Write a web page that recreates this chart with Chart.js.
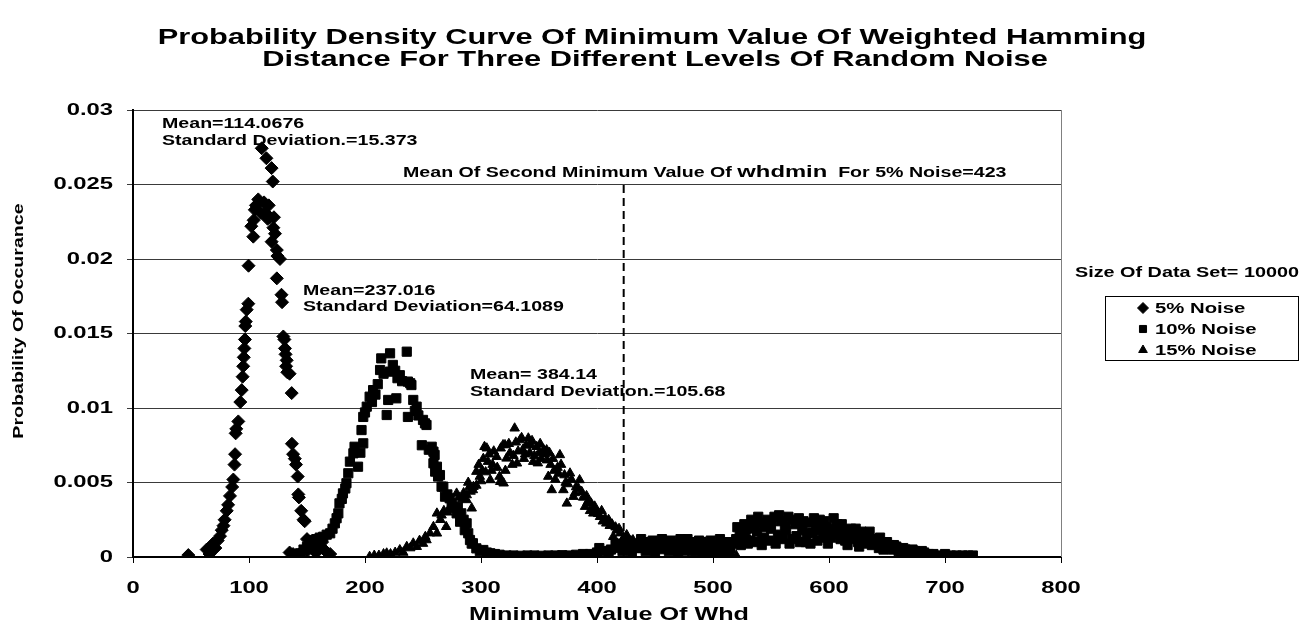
<!DOCTYPE html>
<html>
<head>
<meta charset="utf-8">
<title>Probability Density Curve Of Minimum Value Of Weighted Hamming Distance</title>
<script src="https://cdn.jsdelivr.net/npm/chart.js@4.4.1/dist/chart.umd.min.js"></script>
<style>
  html, body { margin: 0; padding: 0; background: #fff; overflow: hidden; }
  canvas { display: block; }
</style>
</head>
<body>
<canvas id="chart" width="1314" height="628"></canvas>
<script>
// ---- data: minimum weighted Hamming distance vs. probability of occurrence ----
const noise5X = [47.7, 63.5, 66, 69, 71, 73, 75, 76.5, 78, 79, 80.8, 82, 83.6, 85.5, 86.5, 87.5, 88, 88.5, 89, 90.8,
  92.5, 93.7, 94.5, 95, 95.5, 96, 96.5, 96.8, 97.2, 98, 99.4, 99.6, 102, 103.7, 104, 105, 106, 108, 110, 111,
  113, 114, 115, 116, 117, 118, 119.5, 119.5, 120.5, 121, 121.5, 122.4, 124, 124.5, 126.7, 124, 128, 128.5, 129.6, 130.5,
  131, 131.5, 132.5, 132, 133, 135, 136.8, 137, 138, 139.5, 140.5, 142, 142.5, 143, 145, 147, 148, 150, 152, 155,
  158, 160, 163, 166, 170, 138, 141, 135, 145, 150];
const noise5Y = [0.00013, 0.0005, 0.0002, 0.0009, 0.0006, 0.0011, 0.0014, 0.0018, 0.0021, 0.0025, 0.0031, 0.0035, 0.0041, 0.0047, 0.0052, 0.0062, 0.0069, 0.0083, 0.0086, 0.0091,
  0.0104, 0.0112, 0.0121, 0.0128, 0.0134, 0.0140, 0.0146, 0.0155, 0.0158, 0.0166, 0.0170, 0.01955, 0.0222, 0.0215, 0.0226, 0.0233, 0.0236, 0.0240, 0.0231, 0.02743,
  0.0238, 0.0231, 0.02676, 0.0227, 0.0236, 0.0228, 0.0261, 0.02116, 0.0252, 0.0221, 0.0228, 0.0217, 0.0206, 0.0202, 0.0200, 0.0187, 0.0176, 0.0171, 0.0148, 0.0146,
  0.0140, 0.0136, 0.0132, 0.0128, 0.0124, 0.0123, 0.0110, 0.0076, 0.0069, 0.0066, 0.0062, 0.0054, 0.0042, 0.0040, 0.0031, 0.0025, 0.0024, 0.0012, 0.0008, 0.0005,
  0.0003, 0.0007, 0.0010, 0.0004, 0.0002, 0.0002, 0.0001, 0.0003, 0.0003, 0.0004];

const noise10X = [138, 141, 144, 147, 150, 153, 155.5, 158, 161, 164, 167, 170, 172, 174, 175.5, 177, 178, 180, 181, 183,
  184, 185.6, 187, 190, 191, 194, 196, 197, 198.5, 198.5, 200, 201.5, 204, 206, 207, 209, 211, 213, 214, 216,
  218.7, 220, 221.6, 221.6, 224, 226, 227, 228, 230, 232, 236, 237, 237, 239, 240, 241.6, 243, 244.5, 246, 249,
  250, 251.7, 253, 255, 257.5, 259, 259, 260, 260.5, 262, 263, 264.6, 266, 267.5, 269, 271, 273, 274.7, 277, 279,
  280, 282, 283, 285, 286, 287.6, 289, 290.5, 292, 293, 296, 299, 302, 305, 308, 312, 316, 322, 328, 334,
  340, 346, 352, 358, 364, 370, 376, 382, 388, 394, 400, 406, 412, 418, 424, 428, 432, 436, 440, 444,
  448, 452, 456, 460, 464, 468, 472, 476, 480, 484, 488, 492, 496, 500, 504, 508, 512, 515, 520, 523,
  526, 529, 532, 535, 538, 541, 544, 547, 550, 553, 556, 559, 562, 565, 568, 571, 574, 577, 580, 583,
  586, 589, 592, 595, 598, 601, 604, 607, 610, 613, 616, 619, 622, 625, 628, 631, 634, 637, 640, 643,
  646, 649, 652, 655, 658, 662, 666, 670, 674, 678, 682, 686, 690, 695, 700, 705, 710, 715, 720, 724,
  402, 410, 416, 422, 426, 430, 434, 438, 442, 446, 450, 454, 458, 462, 466, 470, 474, 478, 482, 486,
  490, 494, 498, 502, 506, 510, 514, 518, 521, 524, 527, 530, 533, 536, 539, 542, 545, 548, 551, 554,
  557, 560, 563, 566, 569, 572, 575, 578, 581, 584, 587, 590, 593, 596, 599, 602, 605, 608, 611, 614,
  617, 620, 623, 626, 629, 632, 635, 638, 641, 644, 647, 650, 653, 656, 660, 664, 668, 672, 676, 680];
const noise10Y = [0.00013, 0.0002, 0.00025, 0.0005, 0.00069, 0.0009, 0.00114, 0.0012, 0.0013, 0.00136, 0.0015, 0.00159, 0.0019, 0.00226, 0.0026, 0.00293, 0.0036, 0.0039, 0.00427, 0.0046,
  0.00495, 0.00562, 0.0064, 0.00696, 0.0074, 0.00606, 0.0070, 0.00852, 0.00763, 0.0094, 0.0097, 0.01009, 0.01076, 0.0104, 0.0112, 0.0109, 0.0116, 0.01255, 0.01333, 0.0123,
  0.00953, 0.01054, 0.01367, 0.01244, 0.01289, 0.0125, 0.01065, 0.0120, 0.0122, 0.0118, 0.01378, 0.01177, 0.0094, 0.01166, 0.01154, 0.01054, 0.0098, 0.01009, 0.0095, 0.0075,
  0.0092, 0.00897, 0.00886, 0.0072, 0.0074, 0.00707, 0.00629, 0.00685, 0.00573, 0.00606, 0.0054, 0.0055, 0.00472, 0.00472, 0.00405, 0.0042, 0.00394, 0.0036, 0.0033, 0.00293,
  0.00338, 0.00237, 0.00293, 0.0025, 0.0018, 0.00226, 0.00159, 0.00114, 0.0009, 0.00092, 0.00058, 0.0004, 0.00047, 0.0003, 0.00025, 0.0002, 0.00015, 0.0001, 0.0001, 0.00008,
  0.0001, 0.0001, 0.00008, 0.0001, 0.0001, 0.00012, 0.0001, 0.00015, 0.0002, 0.0002, 0.0003, 0.0004, 0.0005, 0.0006, 0.0008, 0.0005, 0.0009, 0.0006, 0.0010, 0.0007,
  0.0011, 0.0008, 0.0012, 0.0007, 0.0011, 0.0009, 0.0012, 0.0006, 0.0010, 0.0008, 0.0011, 0.0006, 0.0009, 0.0005, 0.0008, 0.0004, 0.0010, 0.0006, 0.0012, 0.0016,
  0.0014, 0.0019, 0.0011, 0.0021, 0.0017, 0.0023, 0.0013, 0.0025, 0.0019, 0.0027, 0.0015, 0.0024, 0.0021, 0.0027, 0.0012, 0.0022, 0.0026, 0.0018, 0.0010, 0.0023,
  0.0016, 0.0021, 0.0025, 0.0013, 0.0020, 0.0017, 0.0026, 0.0022, 0.0012, 0.0018, 0.0008, 0.0019, 0.0015, 0.0010, 0.0017, 0.0012, 0.0014, 0.0008, 0.0012, 0.0006,
  0.0010, 0.0007, 0.0008, 0.0005, 0.0007, 0.0004, 0.0005, 0.0003, 0.0004, 0.0002, 0.0003, 0.0002, 0.0002, 0.0001, 0.0002, 0.0001, 0.0001, 0.0001, 0.0001, 0.0001,
  0.0006, 0.0003, 0.0009, 0.0004, 0.0011, 0.0003, 0.0006, 0.0012, 0.0004, 0.0009, 0.0003, 0.0006, 0.0010, 0.0004, 0.0006, 0.0003, 0.0009, 0.0012, 0.0004, 0.0006,
  0.0010, 0.0003, 0.0011, 0.0003, 0.0012, 0.0007, 0.0003, 0.0009, 0.0020, 0.0008, 0.0022, 0.0009, 0.0025, 0.0010, 0.0027, 0.0008, 0.0020, 0.0011, 0.0024, 0.0009,
  0.0028, 0.0012, 0.0018, 0.0009, 0.0025, 0.0014, 0.0010, 0.0024, 0.0016, 0.0009, 0.0026, 0.0011, 0.0018, 0.0024, 0.0009, 0.0013, 0.0019, 0.0015, 0.0022, 0.0011,
  0.0016, 0.0012, 0.0019, 0.0007, 0.0014, 0.0009, 0.0017, 0.0011, 0.0009, 0.0013, 0.0005, 0.0010, 0.0006, 0.0008, 0.0004, 0.0006, 0.0003, 0.0005, 0.0002, 0.0004];

const noise15X = [204, 208, 212, 216, 218.7, 222, 226, 230, 233, 236, 239, 241.6, 244.6, 247, 250, 252, 253, 256, 259, 262,
  262, 265, 268, 270, 273, 276, 279, 282, 284, 287.6, 287.7, 290, 292, 293, 293.5, 296, 299, 301, 303, 305,
  306, 308, 310, 313.5, 316, 316.5, 319, 319.5, 320.7, 322, 325, 328, 329, 331, 333.6, 336, 338, 340.8, 343, 345,
  348, 350, 352, 355, 356.6, 358, 360, 361, 363, 366, 368, 371, 373, 374, 376.7, 379.6, 382, 385, 386.8, 389.7,
  392, 394, 396.8, 399, 402.6, 405, 408, 411, 414, 417, 420, 422, 425.6, 428, 431, 434, 437, 440, 444, 448,
  452, 456, 460, 465, 470, 475, 480, 485, 490, 495, 500, 505, 510, 515, 520, 525, 530, 535, 540,
  296, 298, 300, 302, 304, 307, 309, 311, 314, 317, 321, 324, 327, 330, 332, 335, 337, 339, 342, 344,
  346, 349, 351, 354, 357, 359, 362, 364, 367, 369, 372, 375, 378, 381, 384, 388, 391, 395, 398, 401,
  404, 407, 410, 413, 416, 419, 423, 427, 266, 271, 275, 278, 281, 285, 289, 291];
const noise15Y = [0.00002, 0.0001, 0.0001, 0.0002, 0.00025, 0.0002, 0.0003, 0.00047, 0.0003, 0.00069, 0.0006, 0.00092, 0.00069, 0.0011, 0.0009, 0.00136, 0.00114, 0.0016, 0.00203, 0.00159,
  0.00293, 0.0025, 0.0031, 0.00203, 0.0033, 0.0036, 0.00427, 0.00293, 0.0039, 0.00383, 0.00416, 0.0047, 0.00327, 0.0045, 0.00472, 0.00573, 0.0054, 0.0058, 0.0074, 0.0073,
  0.0064, 0.00517, 0.0062, 0.00673, 0.0054, 0.00505, 0.00752, 0.00495, 0.00752, 0.00662, 0.0070, 0.0068, 0.00864, 0.00629, 0.00785, 0.0072, 0.0069, 0.00797, 0.0075, 0.0064,
  0.0074, 0.0070, 0.0066, 0.0069, 0.00718, 0.0054, 0.0062, 0.0045, 0.0058, 0.0060, 0.00685, 0.0045, 0.0050, 0.0036, 0.00562, 0.00405, 0.0047, 0.00517, 0.00438, 0.00338,
  0.0037, 0.0031, 0.00293, 0.0031, 0.0027, 0.0024, 0.00226, 0.0021, 0.00136, 0.0018, 0.0016, 0.0011, 0.00148, 0.0009, 0.00114, 0.0008, 0.0010, 0.0006, 0.0009, 0.0005,
  0.0007, 0.0004, 0.0006, 0.0004, 0.0005, 0.0003, 0.0004, 0.0003, 0.0002, 0.0003, 0.0002, 0.0002, 0.0001, 0.0002, 0.0001, 0.0009, 0.0014, 0.0018, 0.0012,
  0.0048, 0.0062, 0.0051, 0.0066, 0.0057, 0.0069, 0.0058, 0.0071, 0.0060, 0.0073, 0.0058, 0.0076, 0.0062, 0.0077, 0.0071, 0.0080, 0.0066, 0.0075, 0.0070, 0.0078,
  0.0068, 0.0063, 0.0076, 0.0072, 0.0065, 0.0070, 0.0066, 0.0052, 0.0056, 0.0062, 0.0055, 0.0049, 0.0052, 0.0043, 0.0046, 0.0040, 0.0041, 0.0036, 0.0034, 0.0029,
  0.0031, 0.0026, 0.0025, 0.0022, 0.0020, 0.0019, 0.0013, 0.0012, 0.0028, 0.0030, 0.0038, 0.0034, 0.0040, 0.0043, 0.0050, 0.0044];

// mean of the second minimum of whdmin for 5% noise
const secondMinMean = 423;
const secondMinTop = 0.025;

const seriesNames = ['5% Noise', '10% Noise', '15% Noise'];
const seriesStyles = ['rectRot', 'rect', 'triangle'];

const FONT = "'Liberation Sans', Arial, sans-serif";
const WIDE = 1.4; // horizontal stretch used for all chart text

function pts(xs, ys) { return xs.map((x, i) => ({ x: x, y: ys[i] })); }

function wideText(ctx, s, x, y, size, opts) {
  opts = opts || {};
  ctx.save();
  ctx.font = (opts.weight || 'bold') + ' ' + size + 'px ' + FONT;
  ctx.fillStyle = '#000';
  ctx.textAlign = opts.align || 'left';
  ctx.textBaseline = opts.baseline || 'alphabetic';
  ctx.translate(x, y);
  if (opts.rotate) ctx.rotate(opts.rotate);
  ctx.scale(opts.sx || WIDE, 1);
  ctx.fillText(s, 0, 0);
  const w = ctx.measureText(s).width * (opts.sx || WIDE);
  ctx.restore();
  return w;
}

const frame = {
  id: 'frame',
  beforeDatasetsDraw(chart) {
    const { ctx, chartArea: a } = chart;
    ctx.save();
    ctx.strokeStyle = '#808080';
    ctx.lineWidth = 1;
    ctx.beginPath();
    ctx.moveTo(a.right + 0.5, a.top);
    ctx.lineTo(a.right + 0.5, a.bottom);
    ctx.stroke();
    ctx.restore();
  }
};

const texts = {
  id: 'texts',
  afterDraw(chart) {
    const ctx = chart.ctx;
    const xs = chart.scales.x, ys = chart.scales.y;
    const a = chart.chartArea;

    // title
    wideText(ctx, 'Probability Density Curve Of Minimum Value Of Weighted Hamming', 652, 44, 22, { align: 'center' });
    wideText(ctx, 'Distance For Three Different Levels Of Random Noise', 655, 66, 22, { align: 'center' });

    // y tick labels
    ys.ticks.forEach(t => {
      const v = parseFloat(t.value.toFixed(4));
      wideText(ctx, String(v), a.left - 20, ys.getPixelForValue(t.value), 17, { align: 'right', baseline: 'middle' });
    });
    // x tick labels
    xs.ticks.forEach(t => {
      wideText(ctx, String(Math.round(t.value)), xs.getPixelForValue(t.value), a.bottom + 31, 17, { align: 'center', baseline: 'middle' });
    });

    // axis titles
    wideText(ctx, 'Minimum Value Of Whd', (a.left + a.right) / 2 + 12, a.bottom + 58, 18, { align: 'center', baseline: 'middle' });
    wideText(ctx, 'Probability Of Occurance', 19, 321, 14, { align: 'center', baseline: 'middle', rotate: -Math.PI / 2 });

    // statistics of each curve
    wideText(ctx, 'Mean=114.0676', 162, 128, 14);
    wideText(ctx, 'Standard Deviation.=15.373', 162, 145, 14);
    wideText(ctx, 'Mean=237.016', 303, 295, 14);
    wideText(ctx, 'Standard Deviation=64.1089', 303, 311, 14);
    wideText(ctx, 'Mean= 384.14', 470, 379, 14);
    wideText(ctx, 'Standard Deviation.=105.68', 470, 396, 14);

    // label of the dashed marker line
    let x = 403;
    x += wideText(ctx, 'Mean Of Second Minimum Value Of ', x, 177, 14);
    x += wideText(ctx, 'whdmin', x, 177, 17);
    wideText(ctx, '  For 5% Noise=' + secondMinMean, x, 177, 14);

    // legend
    wideText(ctx, 'Size Of Data Set= 10000', 1075, 277, 15, { sx: 1.32 });
    ctx.save();
    ctx.strokeStyle = '#000';
    ctx.lineWidth = 1;
    ctx.strokeRect(1105.5, 296.5, 193, 64);
    ctx.restore();
    const rows = [308, 329, 350];
    seriesNames.forEach((name, i) => {
      ctx.save();
      ctx.fillStyle = '#000';
      ctx.strokeStyle = '#000';
      ctx.lineWidth = 1;
      Chart.helpers.drawPoint(ctx, { pointStyle: seriesStyles[i], radius: i === 0 ? 5.5 : 5, borderWidth: 1, rotation: 0 }, 1143, rows[i]);
      ctx.restore();
      wideText(ctx, name, 1155, rows[i] + 1, 14, { baseline: 'middle', sx: 1.45 });
    });
  }
};

const makeSet = (label, xs, ys, style, r) => ({
  label: label,
  data: pts(xs, ys),
  pointStyle: style,
  pointRadius: r,
  pointHoverRadius: r,
  pointBackgroundColor: '#000',
  pointBorderColor: '#000',
  pointBorderWidth: 1,
  showLine: false
});

new Chart(document.getElementById('chart'), {
  type: 'scatter',
  data: {
    datasets: [
      makeSet(seriesNames[0], noise5X, noise5Y, seriesStyles[0], 6.5),
      makeSet(seriesNames[1], noise10X, noise10Y, seriesStyles[1], 6.5),
      makeSet(seriesNames[2], noise15X, noise15Y, seriesStyles[2], 5.5),
      {
        label: 'second minimum',
        data: [{ x: secondMinMean, y: 0 }, { x: secondMinMean, y: secondMinTop }],
        showLine: true,
        borderColor: '#000',
        borderWidth: 2,
        borderDash: [8, 5],
        pointRadius: 0
      }
    ]
  },
  options: {
    responsive: false,
    animation: false,
    devicePixelRatio: 1,
    layout: { padding: { top: 110, right: 253, left: 0, bottom: 0 } },
    plugins: {
      legend: { display: false },
      title: { display: false },
      tooltip: { enabled: false }
    },
    events: [],
    scales: {
      x: {
        type: 'linear', min: 0, max: 800,
        ticks: { display: false, stepSize: 100 },
        grid: { drawOnChartArea: false, drawTicks: true, tickLength: 6, color: '#000', lineWidth: 1 },
        border: { color: '#000', width: 2 },
        afterFit(s) { s.height = 71; }
      },
      y: {
        type: 'linear', min: 0, max: 0.03,
        ticks: { display: false, stepSize: 0.005 },
        grid: { color: '#3a3a3a', lineWidth: 1, drawTicks: true, tickLength: 6 },
        border: { color: '#000', width: 2 },
        afterFit(s) { s.width = 133; }
      }
    }
  },
  plugins: [frame, texts]
});
</script>
</body>
</html>
